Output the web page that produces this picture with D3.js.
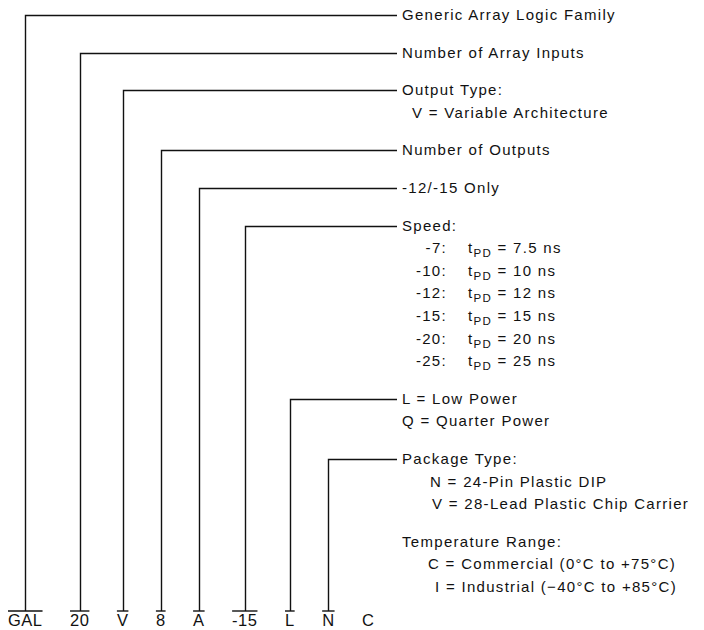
<!DOCTYPE html>
<html>
<head>
<meta charset="utf-8">
<script src="https://cdn.jsdelivr.net/npm/d3@7"></script>
<style>
  body { margin: 0; background: #fff; }
  text { font-family: "Liberation Sans", Arial, Helvetica, sans-serif; fill: #111; }
</style>
</head>
<body>
<svg width="704" height="630"></svg>
<script>
// part number fields, left to right
var codes = ['GAL', '20', 'V', '8', 'A', '-15', 'L', 'N', 'C']
// which text line each field's leader goes to (null = no leader)
var leaderLine = [0, 1, 2, 4, 5, 6, 13, 15, null]

// description lines: line index, block index, text, indent
var lineIdx = [0, 1, 2, 3, 4, 5, 6, 13, 14, 15, 16, 17, 18, 19, 20]
var blockIdx = [0, 1, 2, 2, 3, 4, 5, 6, 6, 7, 7, 7, 8, 8, 8]
var lineText = [
    'Generic Array Logic Family',
    'Number of Array Inputs',
    'Output Type:',
    'V = Variable Architecture',
    'Number of Outputs',
    '-12/-15 Only',
    'Speed:',
    'L = Low Power',
    'Q = Quarter Power',
    'Package Type:',
    'N = 24-Pin Plastic DIP',
    'V = 28-Lead Plastic Chip Carrier',
    'Temperature Range:',
    'C = Commercial (0°C to +75°C)',
    'I = Industrial (\u221240°C to +85°C)'
]
var lineIndent = [0, 0, 0, 10, 0, 0, 0, 0, 0, 0, 28, 30, 0, 26, 33]

// speed grades
var speedCode = ['-7', '-10', '-12', '-15', '-20', '-25']
var speedNs = ['7.5', '10', '12', '15', '20', '25']
var speedLine = [7, 8, 9, 10, 11, 12]

var svg = d3.select('svg')

// y of a text line: fixed step per line plus extra gap per block
var yLine = d3.scaleLinear().domain([0, 1]).range([15, 15 + 22.6])
var blockGap = 15
function yOf(line, block) { return yLine(line) + block * blockGap }
function blockOfLine(l) {
    var k = lineIdx.indexOf(l)
    return k >= 0 ? blockIdx[k] : 5
}

var textX = 402
var lineEnd = 397

// bottom code labels, laid out from their measured widths
var codeY = 626
var underY = 611
var gap = 27.5
var codeG = svg.append('g')
var codeText = codeG.selectAll('text').data(codes).enter().append('text')
    .attr('y', codeY)
    .attr('font-size', 16.5)
    .attr('letter-spacing', 0.5)
    .attr('text-anchor', 'middle')
    .text(d => d)

var widths = []
codeText.each(function () { widths.push(this.getComputedTextLength()) })
var lefts = []
var cur = 8
widths.forEach(function (w) { lefts.push(cur); cur += w + gap })
var xCode = d3.scaleOrdinal().domain(codes).range(widths.map((w, i) => lefts[i] + w / 2))

codeText.attr('x', d => xCode(d))

// underlines and leaders
codes.forEach(function (c, i) {
    if (leaderLine[i] == null) return
    var x = Math.round(xCode(c)) + 0.5
    codeG.append('line')
        .attr('x1', lefts[i]).attr('x2', lefts[i] + widths[i])
        .attr('y1', underY).attr('y2', underY)
        .attr('stroke', '#111').attr('stroke-width', 1.4)
    var l = leaderLine[i]
    var y = Math.round(yOf(l, blockOfLine(l))) + 0.5
    codeG.append('path')
        .attr('d', d3.line()([[x, underY], [x, y], [lineEnd, y]]))
        .attr('fill', 'none')
        .attr('stroke', '#111')
        .attr('stroke-width', 1.4)
})

// description text
svg.append('g').selectAll('text').data(lineText).enter().append('text')
    .attr('x', (d, i) => textX + lineIndent[i])
    .attr('y', (d, i) => yOf(lineIdx[i], blockIdx[i]) + 5)
    .attr('font-size', 15)
    .attr('letter-spacing', 1.3)
    .text(d => d)

// speed table
var sp = svg.append('g')
speedCode.forEach(function (c, i) {
    var y = yOf(speedLine[i], 5) + 5
    sp.append('text')
        .attr('x', 447).attr('y', y)
        .attr('text-anchor', 'end')
        .attr('font-size', 15)
        .attr('letter-spacing', 1.3)
        .text(c + ':')
    var t = sp.append('text')
        .attr('x', 468).attr('y', y)
        .attr('font-size', 15)
        .attr('letter-spacing', 1.3)
    t.append('tspan').text('t')
    t.append('tspan').attr('dy', 4).attr('font-size', 11.5).text('PD')
    t.append('tspan').attr('dy', -4).text(' = ' + speedNs[i] + ' ns')
})
</script>
</body>
</html>
